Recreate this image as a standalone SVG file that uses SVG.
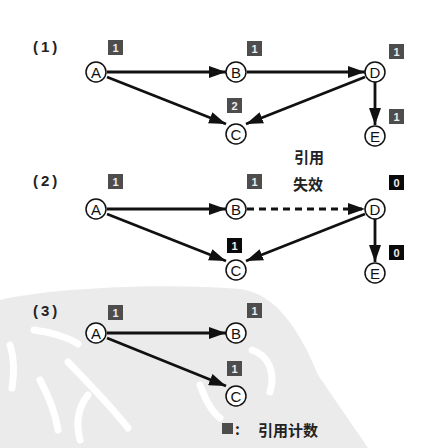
<svg xmlns="http://www.w3.org/2000/svg" width="429" height="448" viewBox="0 0 429 448">
<defs>
<style>
.edge{stroke:#111;stroke-width:2.8;fill:none;marker-end:url(#ah)}
.dash{stroke-dasharray:7 5}
.circ{fill:#fff;stroke:#111;stroke-width:1.5}
.lbl{font-family:"Liberation Sans",Arial,sans-serif;font-size:15px;fill:#111;text-anchor:middle}
.bg{fill:#4d4d4d}
.bk{fill:#0a0a0a}
.bt{font-family:"Liberation Sans",Arial,sans-serif;font-size:11px;font-weight:bold;fill:#eee;text-anchor:middle}
.pn{font-family:"Liberation Sans",Arial,sans-serif;font-size:15px;font-weight:bold;fill:#222;letter-spacing:3px}
.cn{font-family:"Noto Sans CJK SC",sans-serif;font-size:15px;font-weight:bold;fill:#222}
.wm{fill:none;stroke:#fff;stroke-width:7;stroke-linecap:round;stroke-linejoin:round}
</style>
<marker id="ah" markerUnits="userSpaceOnUse" markerWidth="18" markerHeight="12" refX="17" refY="6" orient="auto">
<path d="M0,0 L17,6 L0,12 Z" fill="#111"/>
</marker>
</defs>
<rect width="429" height="448" fill="#fff"/>
<g id="watermark">
<path d="M0,300 C40,290 150,282 240,289 C275,293 300,330 318,375 L368,448 L0,448 Z" fill="#ebebeb"/>
<path class="wm" d="M34,330 C50,332 70,338 78,344"/>
<path class="wm" d="M10,345 C15,360 14,375 12,388"/>
<path class="wm" d="M68,362 C90,385 110,405 128,428"/>
<path class="wm" d="M40,380 C48,395 55,410 58,430"/>
<path class="wm" d="M88,395 C80,405 75,420 80,440"/>
<path class="wm" d="M252,350 C268,355 276,372 270,392"/>
<path class="wm" d="M200,385 C205,398 210,410 220,418"/>
</g>
<g id="connectors">
<line class="edge" x1="107" y1="72" x2="226" y2="72"/>
<line class="edge" x1="107" y1="77" x2="226" y2="124"/>
<line class="edge" x1="247" y1="72" x2="365" y2="72"/>
<line class="edge" x1="365" y1="77" x2="246" y2="124"/>
<line class="edge" x1="375" y1="82" x2="375" y2="125"/>
<line class="edge" x1="107" y1="209" x2="226" y2="209"/>
<line class="edge" x1="107" y1="214" x2="226" y2="261"/>
<line class="edge dash" x1="247" y1="209" x2="365" y2="209"/>
<line class="edge" x1="365" y1="214" x2="246" y2="261"/>
<line class="edge" x1="375" y1="219" x2="375" y2="262"/>
<line class="edge" x1="107" y1="333" x2="226" y2="333"/>
<line class="edge" x1="107" y1="338" x2="226" y2="386"/>
</g>
<text class="pn" x="33" y="52">(1)</text>
<text class="pn" x="33" y="186">(2)</text>
<text class="pn" x="33" y="316">(3)</text>
<g id="p1-A"><circle class="circ" cx="96" cy="72" r="10"/><text class="lbl" x="96" y="77.5">A</text><rect class="bg" x="108" y="40" width="15" height="15"/><text class="bt" x="115.5" y="51.5">1</text></g>
<g id="p1-B"><circle class="circ" cx="236" cy="72" r="10"/><text class="lbl" x="236" y="77.5">B</text><rect class="bg" x="247" y="41" width="15" height="15"/><text class="bt" x="254.5" y="52.5">1</text></g>
<g id="p1-D"><circle class="circ" cx="375" cy="72" r="10"/><text class="lbl" x="375" y="77.5">D</text><rect class="bg" x="389" y="44" width="15" height="15"/><text class="bt" x="396.5" y="55.5">1</text></g>
<g id="p1-C"><circle class="circ" cx="236" cy="134" r="10"/><text class="lbl" x="236" y="139.5">C</text><rect class="bg" x="227" y="98" width="15" height="15"/><text class="bt" x="234.5" y="109.5">2</text></g>
<g id="p1-E"><circle class="circ" cx="375" cy="136" r="10"/><text class="lbl" x="375" y="141.5">E</text><rect class="bg" x="389" y="109" width="15" height="15"/><text class="bt" x="396.5" y="120.5">1</text></g>
<g id="note"><text class="cn" x="294" y="163">引用</text><text class="cn" x="293" y="190">失效</text></g>
<g id="p2-A"><circle class="circ" cx="96" cy="209" r="10"/><text class="lbl" x="96" y="214.5">A</text><rect class="bg" x="108" y="174" width="15" height="15"/><text class="bt" x="115.5" y="185.5">1</text></g>
<g id="p2-B"><circle class="circ" cx="236" cy="209" r="10"/><text class="lbl" x="236" y="214.5">B</text><rect class="bg" x="247" y="174" width="15" height="15"/><text class="bt" x="254.5" y="185.5">1</text></g>
<g id="p2-D"><circle class="circ" cx="375" cy="209" r="10"/><text class="lbl" x="375" y="214.5">D</text><rect class="bk" x="389" y="175" width="15" height="15"/><text class="bt" x="396.5" y="186.5">0</text></g>
<g id="p2-C"><circle class="circ" cx="236" cy="270" r="10"/><text class="lbl" x="236" y="275.5">C</text><rect class="bk" x="227" y="238" width="15" height="15"/><text class="bt" x="234.5" y="249.5">1</text></g>
<g id="p2-E"><circle class="circ" cx="375" cy="273" r="10"/><text class="lbl" x="375" y="278.5">E</text><rect class="bk" x="389" y="245" width="15" height="15"/><text class="bt" x="396.5" y="256.5">0</text></g>
<g id="p3-A"><circle class="circ" cx="96" cy="333" r="10"/><text class="lbl" x="96" y="338.5">A</text><rect class="bg" x="108" y="305" width="15" height="15"/><text class="bt" x="115.5" y="316.5">1</text></g>
<g id="p3-B"><circle class="circ" cx="236" cy="333" r="10"/><text class="lbl" x="236" y="338.5">B</text><rect class="bg" x="247" y="303" width="15" height="15"/><text class="bt" x="254.5" y="314.5">1</text></g>
<g id="p3-C"><circle class="circ" cx="236" cy="396" r="10"/><text class="lbl" x="236" y="401.5">C</text><rect class="bg" x="227" y="361" width="15" height="15"/><text class="bt" x="234.5" y="372.5">1</text></g>
<g id="legend"><rect class="bg" x="222" y="423" width="11" height="11"/><text class="cn" x="235" y="435">:</text><text class="cn" x="258" y="436">引用计数</text></g>
</svg>
